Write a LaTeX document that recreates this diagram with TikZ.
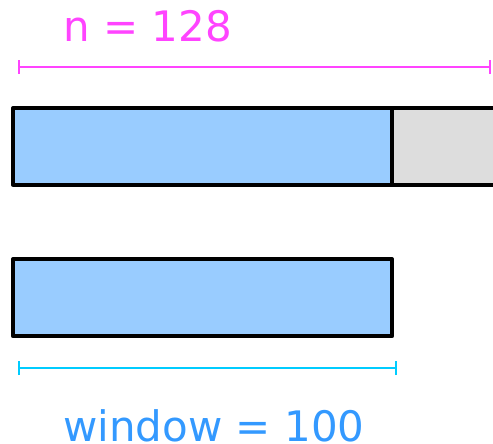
\documentclass[tikz,border=0pt]{standalone}
\usepackage{fontspec}
\setmainfont{DejaVu Sans}
\definecolor{nmag}{HTML}{FF44FF}
\definecolor{wblue}{HTML}{3399FF}
\definecolor{wcyan}{HTML}{00CCFF}
\definecolor{cellblue}{HTML}{99CCFF}
\definecolor{cellgray}{HTML}{DDDDDD}
\begin{document}
\begin{tikzpicture}[x=1pt,y=-1pt,
  cell/.style={draw=black,line width=4pt,line join=round,inner sep=0pt,outer sep=0pt,anchor=north west},
  lbl/.style={font=\fontsize{42}{50}\selectfont,inner sep=0pt,anchor=base west},
  dimline/.style={line width=1.5pt},
  tick/.style={line width=1.5pt}]
\useasboundingbox (0,0) rectangle (493,444);
\clip (0,0) rectangle (493,444);
% n label and dimension
\node[lbl,text=nmag] (nlbl) at (63,42) {n = 128};
\coordinate (nL) at (19,67);
\coordinate (nR) at (490,67);
\draw[dimline,nmag] (nL) -- (nR);
\draw[tick,nmag] ([yshift=-7pt]nL) -- ([yshift=7pt]nL);
\draw[tick,nmag] ([yshift=-7pt]nR) -- ([yshift=7pt]nR);
% top array
\node[cell,fill=cellgray,minimum width=120pt,minimum height=76.7pt] (gray) at (392,108) {};
\node[cell,fill=cellblue,minimum width=379pt,minimum height=76.7pt] (topblue) at (13,108) {};
% bottom window
\node[cell,fill=cellblue,minimum width=379pt,minimum height=77pt] (win) at (13,259.3) {};
% window dimension
\coordinate (wL) at (19,368);
\coordinate (wR) at (396,368);
\draw[dimline,wcyan] (wL) -- (wR);
\draw[tick,wcyan] ([yshift=-7pt]wL) -- ([yshift=7pt]wL);
\draw[tick,wcyan] ([yshift=-7pt]wR) -- ([yshift=7pt]wR);
\node[lbl,text=wblue] (wlbl) at (63,441) {window = 100};
\end{tikzpicture}
\end{document}
